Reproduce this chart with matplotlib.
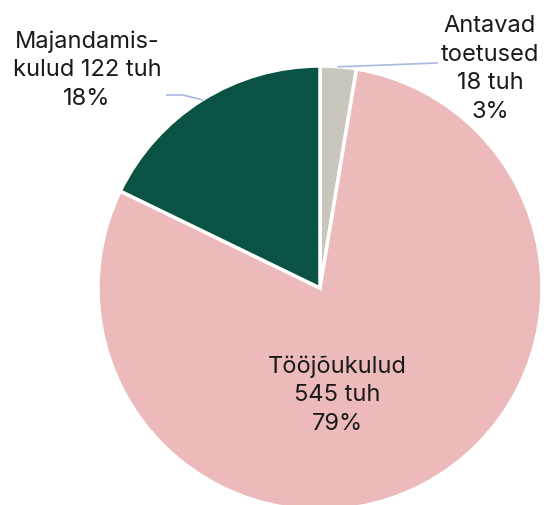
import numpy as np
import matplotlib
matplotlib.use('Agg')
from matplotlib import pyplot as plt

plt.rcParams['font.family'] = ['Inter', 'DejaVu Sans']

names = ['Antavad\ntoetused', 'Tööjõukulud', 'Majandamis-\nkulud']
values = [18, 545, 122]
percents = [3, 79, 18]
colors = ['#c9c6bd', '#ecbaba', '#0a5241']

labels = [
    '%s\n%d tuh\n%d%%' % (names[0], values[0], percents[0]),
    '%s\n%d tuh\n%d%%' % (names[1], values[1], percents[1]),
    '%s %d tuh\n%d%%' % (names[2], values[2], percents[2]),
]

fig = plt.figure(figsize=(5.44, 5.05), dpi=100)
ax = fig.add_axes([0, 0, 1, 1])
# pie centre at pixel (320, 288), radius 222 px
R = 222.0
def px(x, y):
    return (x - 320) / R, (288 - y) / R

wedges, _ = ax.pie(values, colors=colors, startangle=90, counterclock=False,
                   radius=1, center=(0, 0),
                   wedgeprops=dict(edgecolor='white', linewidth=2.5))
ax.set_xlim(-320 / R, (544 - 320) / R)
ax.set_ylim(-(505 - 288) / R, 288 / R)
ax.set_aspect('equal')
ax.axis('off')

line_col = '#a9b8e0'
fs = 17
ls = 1.38
tc = '#1a1a1a'

# Antavad toetused - outside, top right
w = wedges[0]
a = np.deg2rad((w.theta1 + w.theta2) / 2)
ex, ey = np.cos(a), np.sin(a)
ax.plot([ex, px(437, 63)[0]], [ey, px(437, 63)[1]], color=line_col, lw=1.2)
ax.text(*px(490, 69), labels[0], ha='center', va='center', fontsize=fs,
        color=tc, linespacing=ls)

# Tööjõukulud - inside
ax.text(*px(337, 395), labels[1], ha='center', va='center', fontsize=fs,
        color=tc, linespacing=ls)

# Majandamiskulud - outside, top left
w = wedges[2]
a = np.deg2rad((w.theta1 + w.theta2) / 2)
ex, ey = np.cos(a), np.sin(a)
mx, my = px(183, 95)
ax.plot([ex, mx, px(167, 95)[0]], [ey, my, my], color=line_col, lw=1.2)
ax.text(*px(87, 70), labels[2], ha='center', va='center', fontsize=fs,
        color=tc, linespacing=ls)

fig.savefig('out.png', dpi=100)
